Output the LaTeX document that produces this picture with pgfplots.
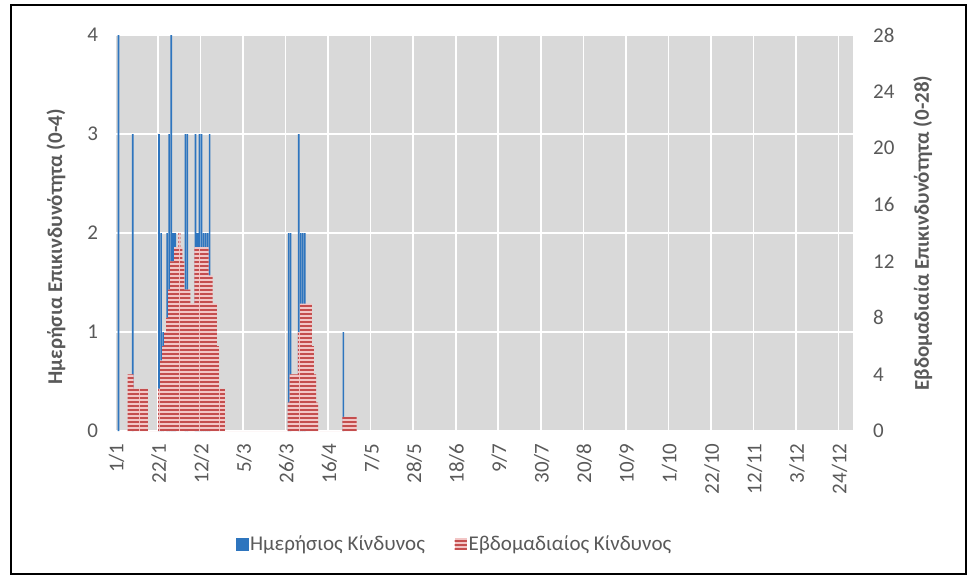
\documentclass[border=0pt]{standalone}
\usepackage{fontspec}
\setmainfont{Carlito}
\usepackage{pgfplots}
\pgfplotsset{compat=1.18}
\usetikzlibrary{patterns}
\definecolor{dblue}{RGB}{46,117,190}
\definecolor{rdark}{RGB}{196,78,78}
\definecolor{rlight}{RGB}{242,198,198}
\definecolor{bggray}{RGB}{217,217,217}
\definecolor{txtgray}{RGB}{89,89,89}
\pgfdeclarepatternformonly{hstripes}{\pgfpoint{0pt}{0pt}}{\pgfpoint{20pt}{4.4pt}}{\pgfpoint{20pt}{4.4pt}}{\pgfpathrectangle{\pgfpoint{0pt}{0pt}}{\pgfpoint{20pt}{2.2pt}}\pgfusepath{fill}}
\newcommand\cf{\fontsize{21}{25}\selectfont}
\begin{document}
\begin{tikzpicture}
\path[use as bounding box] (0,0) rectangle (970pt,-580pt);
\draw[black, line width=1.5pt] (11pt,-5pt) rectangle (966pt,-574pt);
\begin{axis}[
  at={(115.5pt,-431pt)}, anchor=south west,
  width=737.2pt, height=396pt, scale only axis,
  xmin=-0.5, xmax=363.5, ymin=0, ymax=4,
  axis background/.style={fill=bggray},
  axis line style={draw=none},
  major tick length=0pt, minor tick length=0pt,
  xtick={0,21,...,357},
  xticklabels={1/1,22/1,12/2,5/3,26/3,16/4,7/5,28/5,18/6,9/7,30/7,20/8,10/9,1/10,22/10,12/11,3/12,24/12},
  minor xtick={20.5,41.5,...,356.5},
  xminorgrids=true, xmajorgrids=false,
  ytick={0,1,2,3,4}, ymajorgrids=true,
  grid style={white, line width=1.6pt},
  minor grid style={white, line width=1.6pt},
  xticklabel style={rotate=90, anchor=east, font=\cf, text=txtgray},
  xticklabel shift=9pt,
  yticklabel style={font=\cf, text=txtgray},
  yticklabel shift=14pt,
  ylabel={Ημερήσια Επικινδυνότητα (0-4)},
  every axis y label/.style={at={(axis description cs:-0.0807,0.465)}, rotate=90, anchor=center, font=\cf\bfseries, text=txtgray},
  /pgf/number format/assume math mode=true,
]
\addplot[ybar, bar width=0.8, bar shift=0pt, fill=dblue, draw=none] coordinates {
(1,4) (8,3) (21,3) (22,2) (23,1) (25,2) (26,3) (27,4) (28,2) (29,2)
(34,3) (35,3) (39,3) (40,2) (41,3) (42,3) (43,2) (44,2) (45,2) (46,3)
(85,2) (86,2) (90,3) (91,2) (92,2) (93,2) (112,1)
};
\end{axis}
\begin{axis}[
  at={(115.5pt,-431pt)}, anchor=south west,
  width=737.2pt, height=396pt, scale only axis,
  xmin=-0.5, xmax=363.5, ymin=0, ymax=28,
  axis x line=none, axis y line*=right,
  axis line style={draw=none},
  major tick length=0pt,
  ytick={0,4,...,28},
  yticklabel style={font=\cf, text=txtgray},
  yticklabel shift=17pt,
  ylabel={Εβδομαδιαία Επικινδυνότητα (0-28)},
  every axis y label/.style={at={(axis description cs:1.095,0.5)}, rotate=90, anchor=center, font=\cf\bfseries, text=txtgray},
  /pgf/number format/assume math mode=true,
  legend style={at={(axis description cs:0.46,-0.2854)}, anchor=center, draw=none, fill=none, legend columns=2, font=\cf, text=txtgray, /tikz/every even column/.append style={column sep=28pt}},
]
\addlegendimage{legend image code/.code={\fill[dblue] (0pt,-5.8pt) rectangle (11.7pt,5.8pt);}}
\addlegendentry{Ημερήσιος Κίνδυνος}
\addplot[const plot mark mid, fill=rlight, draw=none, postaction={pattern=hstripes, pattern color=rdark},
  legend image code/.code={\fill[rlight] (0pt,-5.8pt) rectangle (11.7pt,5.8pt); \fill[pattern=hstripes, pattern color=rdark] (0pt,-5.8pt) rectangle (11.7pt,5.8pt);}] coordinates {
(5,0)(6,4)(7,4)(8,4)(9,3)(10,3)(11,3)(12,3)(13,3)(14,3)(15,3)(16,0)
(20,0)(21,3)(22,5)(23,6)(24,7)(25,8)(26,10)(27,12)(28,12)(29,13)(30,13)(31,14)(32,13)(33,12)
(34,10)(35,10)(36,10)(37,9)(38,9)(39,13)(40,13)(41,13)(42,13)(43,13)(44,13)(45,13)
(46,11)(47,11)(48,9)(49,9)(50,6)(51,3)(52,3)(53,3)(54,0)
(84,0)(85,2)(86,4)(87,4)(88,4)(89,4)(90,7)(91,9)(92,9)(93,9)(94,9)(95,9)(96,9)(97,6)(98,4)(99,2)(100,0)
(111,0)(112,1)(113,1)(114,1)(115,1)(116,1)(117,1)(118,1)(119,0)
} \closedcycle;
\addlegendentry{Εβδομαδιαίος Κίνδυνος}
\end{axis}
\end{tikzpicture}
\end{document}
